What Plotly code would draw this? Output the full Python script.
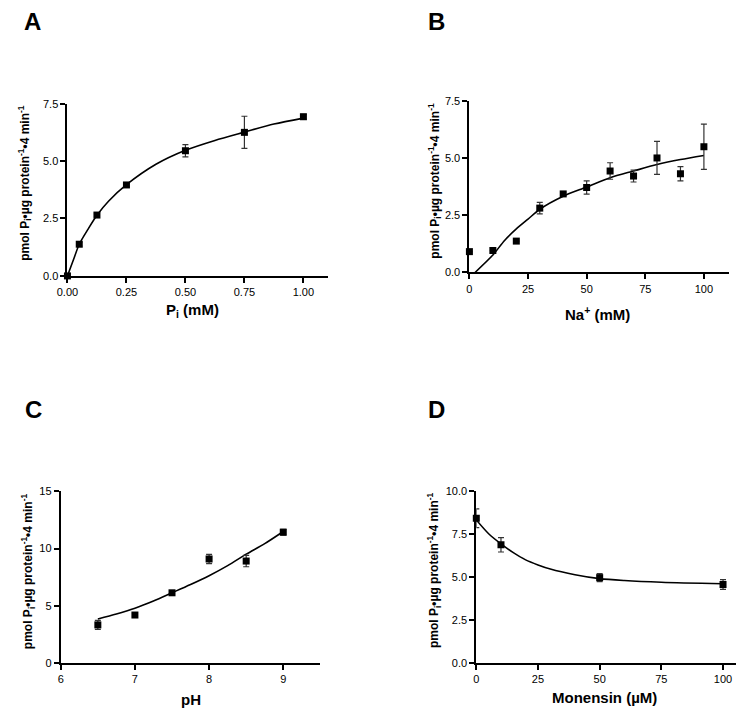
import plotly.graph_objects as go

W, H = 743, 719

# ---------------- data ----------------
# Panel A: Pi dependence
a_x = [0.0, 0.05, 0.125, 0.25, 0.5, 0.75, 1.0]
a_y = [0.0, 1.38, 2.65, 3.96, 5.45, 6.25, 6.93]
a_err = [0.0, 0.08, 0.08, 0.08, 0.27, 0.70, 0.10]
a_fit_x = [0.0, 0.025, 0.05, 0.0875, 0.125, 0.175, 0.25, 0.375, 0.5, 0.625, 0.75, 0.875, 1.0]
a_fit_y = [0.0, 0.69, 1.38, 2.04, 2.64, 3.26, 3.97, 4.86, 5.47, 5.90, 6.26, 6.61, 6.87]

# Panel B: Na+ dependence
b_x = [0, 10, 20, 30, 40, 50, 60, 70, 80, 90, 100]
b_y = [0.91, 0.96, 1.37, 2.81, 3.43, 3.71, 4.43, 4.21, 5.00, 4.31, 5.49]
b_err = [0.0, 0.0, 0.0, 0.25, 0.08, 0.29, 0.36, 0.26, 0.72, 0.31, 0.99]
b_fit_x = [2.4, 10, 15, 20, 25, 30, 40, 50, 60, 70, 80, 90, 100]
b_fit_y = [0.0, 0.76, 1.40, 1.90, 2.33, 2.76, 3.33, 3.73, 4.14, 4.43, 4.71, 4.93, 5.11]

# Panel C: pH dependence
c_x = [6.5, 7.0, 7.5, 8.0, 8.5, 9.0]
c_y = [3.34, 4.20, 6.14, 9.09, 8.91, 11.43]
c_err = [0.39, 0.10, 0.10, 0.40, 0.50, 0.25]
c_fit_x = [6.5, 6.75, 7.0, 7.25, 7.5, 7.75, 8.0, 8.25, 8.5, 8.75, 9.0]
c_fit_y = [3.86, 4.29, 4.80, 5.43, 6.14, 6.86, 7.63, 8.51, 9.51, 10.43, 11.49]

# Panel D: Monensin dependence
d_x = [0, 10, 50, 100]
d_y = [8.42, 6.88, 4.97, 4.57]
d_err = [0.54, 0.42, 0.23, 0.28]
d_fit_x = [0, 5, 10, 15, 20, 25, 30, 40, 50, 60, 75, 100]
d_fit_y = [8.32, 7.52, 6.93, 6.42, 6.00, 5.71, 5.47, 5.14, 4.91, 4.80, 4.70, 4.61]

# ---------------- figure ----------------
FONT = "Arial, Liberation Sans, sans-serif"
fig = go.Figure()

panels = [
    (a_x, a_y, a_err, a_fit_x, a_fit_y, ""),
    (b_x, b_y, b_err, b_fit_x, b_fit_y, "2"),
    (c_x, c_y, c_err, c_fit_x, c_fit_y, "3"),
    (d_x, d_y, d_err, d_fit_x, d_fit_y, "4"),
]

for xs, ys, errs, fx, fy, s in panels:
    fig.add_trace(go.Scatter(
        x=fx, y=fy, mode="lines", line=dict(color="black", width=1.6, shape="spline", smoothing=0.8),
        xaxis="x" + s, yaxis="y" + s, showlegend=False, hoverinfo="skip", cliponaxis=False))
    fig.add_trace(go.Scatter(
        x=xs, y=ys, mode="markers",
        marker=dict(symbol="square", size=7, color="black"),
        error_y=dict(type="data", array=errs, visible=True, color="#333333", thickness=1.2, width=3),
        xaxis="x" + s, yaxis="y" + s, showlegend=False, cliponaxis=False))

def px2x(p):
    return p / W

def px2y(p):
    return 1 - p / H

common = dict(showline=True, linecolor="black", linewidth=2, ticks="outside", ticklen=5,
              tickwidth=1.5, tickcolor="black", showgrid=False, zeroline=False,
              tickfont=dict(family=FONT, size=11, color="black"), fixedrange=True)

layout = dict(
    width=W, height=H, margin=dict(l=0, r=0, t=0, b=0),
    paper_bgcolor="white", plot_bgcolor="white", showlegend=False,
    xaxis=dict(domain=[px2x(57.3), px2x(321.7)], range=[0, 1.104], tickvals=[0, 0.25, 0.5, 0.75, 1.0],
               tickformat=".2f", anchor="y", **common),
    yaxis=dict(domain=[px2y(274.5), px2y(99.3)], range=[0, 7.5], tickvals=[0, 2.5, 5, 7.5],
               tickformat=".1f", anchor="x", **common),
    xaxis2=dict(domain=[px2x(465.3), px2x(728.3)], range=[0, 110.5], tickvals=[0, 25, 50, 75, 100],
                anchor="y2", **common),
    yaxis2=dict(domain=[px2y(271.0), px2y(96.3)], range=[0, 7.5], tickvals=[0, 2.5, 5, 7.5],
                tickformat=".1f", anchor="x2", **common),
    xaxis3=dict(domain=[px2x(50.5), px2x(314.0)], range=[6, 9.5], tickvals=[6, 7, 8, 9],
                anchor="y3", **common),
    yaxis3=dict(domain=[px2y(668.3), px2y(493.5)], range=[0, 15], tickvals=[0, 5, 10, 15],
                anchor="x3", **common),
    xaxis4=dict(domain=[px2x(472.3), px2x(736.0)], range=[0, 105.3], tickvals=[0, 25, 50, 75, 100],
                anchor="y4", **common),
    yaxis4=dict(domain=[px2y(668.3), px2y(493.3)], range=[0, 10], tickvals=[0, 2.5, 5, 7.5, 10],
                tickformat=".1f", anchor="x4", **common),
)
fig.update_layout(**layout)

ytitle = "pmol P<sub>i</sub>•µg protein<sup>-1</sup>•4 min<sup>-1</sup>"

annots = [
    ("A", 22, 16, 24, 0), ("B", 432, 16, 24, 0), ("C", 23, 410, 24, 0), ("D", 432, 410, 24, 0),
    ("P<sub>i</sub> (mM)", 184, 310, 15, 0),
    ("Na<sup>+</sup> (mM)", 595, 313, 15, 0),
    ("pH", 183, 705, 15, 0),
    ("Monensin (µM)", 602, 703, 15, 0),
    (ytitle, 14, 180, 12, -90),
    (ytitle, 430, 178, 12, -90),
    (ytitle, 18, 575, 12, -90),
    (ytitle, 430, 574, 12, -90),
]
for text, x, y, size, ang in annots:
    fig.add_annotation(text="<b>" + text + "</b>", x=px2x(x), y=px2y(y), xref="paper", yref="paper",
                       showarrow=False, xanchor="center", yanchor="middle", textangle=ang,
                       font=dict(family=FONT, size=size, color="black"))

fig.write_html("out.html", config={"displayModeBar": False},
               post_script="document.body.style.margin='0';document.body.style.overflow='hidden';")
